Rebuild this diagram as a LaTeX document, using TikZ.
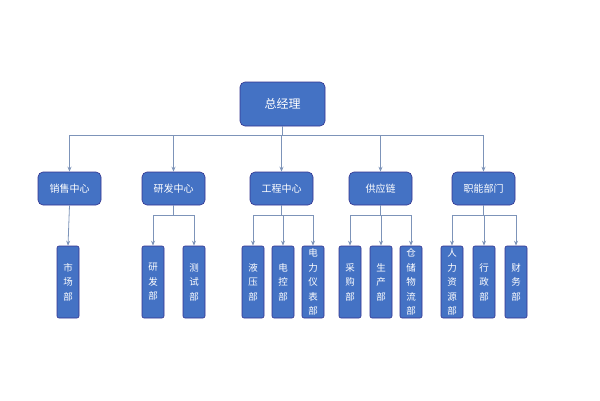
\documentclass[tikz,border=0pt]{standalone}
\usepackage{fontspec}
\setmainfont{Noto Sans CJK SC}
\usetikzlibrary{arrows.meta}
\begin{document}
\begin{tikzpicture}[x=1pt,y=-1pt,
 box/.style={draw=blue!45!black!80,line width=0.6pt,fill={rgb,255:red,68;green,114;blue,196},rounded corners=5pt,text=white,inner sep=0pt,font=\fontsize{10}{12}\selectfont},
 vbox/.style={box,rounded corners=2pt,minimum width=22pt,minimum height=72pt,align=center,font=\fontsize{9.5}{14.5}\selectfont},
 ln/.style={draw={rgb,255:red,125;green,148;blue,185},line width=0.8pt},
 arr/.style={ln,-{Stealth[length=5pt,width=4pt]}}]
\useasboundingbox (0,0) rectangle (600,400);
\node[box,minimum width=85pt,minimum height=44pt,font=\fontsize{12}{14}\selectfont] (top) at (282.5,104) {总经理};
\foreach \n/\x/\t in {a/69.5/销售中心,b/173.5/研发中心,c/281.5/工程中心,d/380.5/供应链,e/483.5/职能部门}
 \node[box,minimum width=63pt,minimum height=33pt] (\n) at (\x,188.5) {\t};
\foreach \n/\x/\t in {a1/68/市\\场\\部,b1/153/研\\发\\部,b2/194/测\\试\\部,c1/253/液\\压\\部,c2/283/电\\控\\部,c3/313/电\\力\\仪\\表\\部,d1/350/采\\购\\部,d2/381/生\\产\\部,d3/411/仓\\储\\物\\流\\部,e1/452/人\\力\\资\\源\\部,e2/484/行\\政\\部,e3/516/财\\务\\部}
 \node[vbox] (\n) at (\x,282) {\t};
\draw[ln] (top.south) -- (282.5,135);
\draw[ln] (a.north |- 0,135) -- (e.north |- 0,135);
\foreach \n in {a,b,c,d,e} \draw[arr] (\n.north |- 0,135) -- (\n.north);
\draw[arr] (a.south) -- (a1.north);
\draw[ln] (b.south) -- (173.5,215); \draw[ln] (153,215) -- (194,215);
\foreach \n in {b1,b2} \draw[arr] (\n.north |- 0,215) -- (\n.north);
\draw[ln] (c.south) -- (281.5,215); \draw[ln] (253,215) -- (313,215);
\foreach \n in {c1,c2,c3} \draw[arr] (\n.north |- 0,215) -- (\n.north);
\draw[ln] (d.south) -- (380.5,215); \draw[ln] (350,215) -- (411,215);
\foreach \n in {d1,d2,d3} \draw[arr] (\n.north |- 0,215) -- (\n.north);
\draw[ln] (e.south) -- (483.5,215); \draw[ln] (452,215) -- (516,215);
\foreach \n in {e1,e2,e3} \draw[arr] (\n.north |- 0,215) -- (\n.north);
\end{tikzpicture}
\end{document}
